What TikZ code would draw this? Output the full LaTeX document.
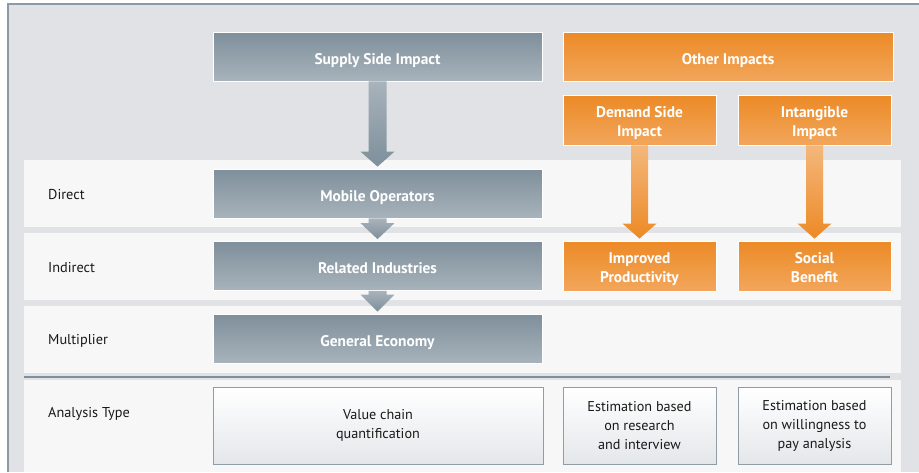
\documentclass[tikz,border=0pt]{standalone}
\usepackage{fontspec}
\setmainfont{PT Sans}
\usepackage{xcolor}
\usetikzlibrary{calc}
\usetikzlibrary{positioning}
\definecolor{framegray}{HTML}{8C9AA5}
\definecolor{backgray}{HTML}{E0E2E5}
\definecolor{bandwhite}{HTML}{F7F7F7}
\definecolor{slatetop}{HTML}{7E8F9B}
\definecolor{slatebot}{HTML}{A8B3BB}
\definecolor{orangetop}{HTML}{EC8A26}
\definecolor{orangebot}{HTML}{F2A65B}
\definecolor{orangelight}{HTML}{F4B77C}
\definecolor{boxline}{HTML}{8F9DA7}
\definecolor{boxbot}{HTML}{E4E7EA}
\tikzset{
    slatebox/.style={draw=white, line width=0.8pt, top color=slatetop, bottom color=slatebot,
        minimum height=49pt, text=white, font=\fontsize{15.4}{19}\selectfont\bfseries, align=center, inner sep=0pt,
        text height=15pt, text depth=0pt},
    orangebox/.style={draw=white, line width=0.8pt, top color=orangetop, bottom color=orangebot,
        minimum height=50pt, minimum width=153pt, text=white, font=\fontsize{15.4}{19}\selectfont\bfseries, align=center, inner sep=0pt,
        text height=32pt, text depth=0pt},
    analysisbox/.style={draw=boxline, line width=1pt, top color=white, bottom color=boxbot,
        minimum height=77pt, text=black!90, font=\fontsize{14.2}{19}\selectfont, align=center, inner sep=0pt},
    rowlabel/.style={anchor=west, text=black!90, font=\fontsize{14.3}{17}\selectfont, inner sep=0pt},
    slatearrow/.style={top color=slatebot, bottom color=slatetop},
    orangearrow/.style={top color=orangelight, bottom color=orangetop}
}
% block arrow from one node to the next: from, to, shaft half width, head half width, head length, style
\newcommand{\blockarrow}[6]{
    \shade[#6] ($(#1.south)+(-#3,0)$) -- ($(#2.north)+(-#3,-#5-2)$) -- ($(#2.north)+(-#4,-#5-2)$)
        -- ($(#2.north)+(0,-2)$) -- ($(#2.north)+(#4,-#5-2)$) -- ($(#2.north)+(#3,-#5-2)$)
        -- ($(#1.south)+(#3,0)$) -- cycle;
}
\begin{document}
\begin{tikzpicture}[x=1pt, y=-1pt]
    \useasboundingbox (0,0) rectangle (919,472);
    % frame and rows
    \fill[backgray] (8,4) rectangle (919,472);
    \draw[framegray, line width=1.2pt] (8,472) -- (8,4) -- (919,4);
    \fill[bandwhite] (24,160) rectangle (901,227);
    \fill[bandwhite] (24,233) rectangle (901,300);
    \fill[bandwhite] (24,306) rectangle (901,373);
    \fill[bandwhite] (24,380) rectangle (901,472);
    \draw[slatetop, line width=1.6pt] (24,377) -- (890,377);

    \node[rowlabel] (ldirect) at (48,195) {Direct};
    \node[rowlabel] (lindirect) at (48,268) {Indirect};
    \node[rowlabel] (lmultiplier) at (48,341) {Multiplier};
    \node[rowlabel] (lanalysis) at (48,414) {Analysis Type};

    % supply side
    \node[slatebox, minimum width=329pt] (supply) at (377.5,56.5) {Supply Side Impact};
    \node[slatebox, minimum width=329pt] (mobile) at (377.5,193.5) {Mobile Operators};
    \node[slatebox, minimum width=329pt] (related) at (377.5,266) {Related Industries};
    \node[slatebox, minimum width=329pt] (general) at (377.5,338.5) {General Economy};

    % other impacts
    \node[orangebox, minimum width=330pt, minimum height=49pt, text height=15pt] (other) at (728,56.5) {Other Impacts};
    \node[orangebox] (demand) at (639.5,120) {Demand Side\\Impact};
    \node[orangebox] (intangible) at (814.5,120) {Intangible\\Impact};
    \node[orangebox] (improved) at (639.5,266) {Improved\\Productivity};
    \node[orangebox] (social) at (814.5,266) {Social\\Benefit};

    % analysis type
    \node[analysisbox, minimum width=330pt] (valuechain) at (378,425.5) {Value chain\\quantification};
    \node[analysisbox, minimum width=153pt] (research) at (639.5,425.5) {Estimation based\\on research\\and interview};
    \node[analysisbox, minimum width=153pt] (willingness) at (814.5,425.5) {Estimation based\\on willingness to\\pay analysis};

    % arrows
    \blockarrow{supply}{mobile}{9}{17}{15}{slatearrow}
    \blockarrow{mobile}{related}{9}{17}{16}{slatearrow}
    \blockarrow{related}{general}{9}{17}{17}{slatearrow}
    \blockarrow{demand}{improved}{8.5}{17}{15}{orangearrow}
    \blockarrow{intangible}{social}{8.5}{17}{15}{orangearrow}
\end{tikzpicture}
\end{document}
